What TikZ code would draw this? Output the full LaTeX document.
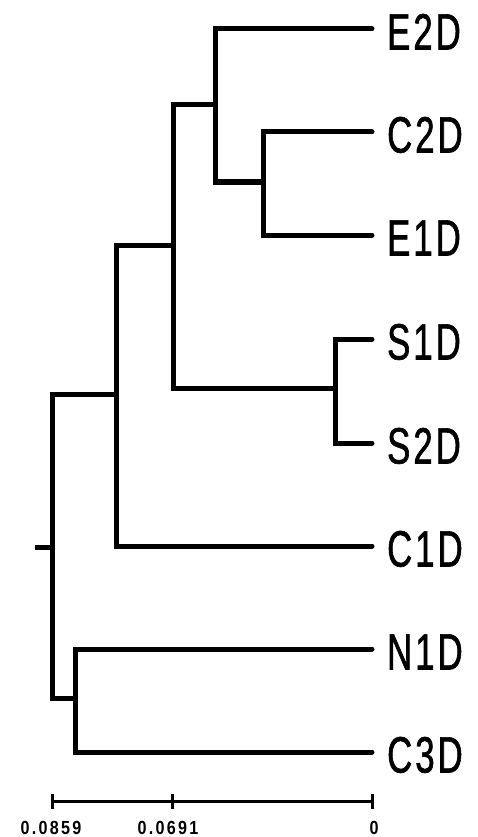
\documentclass[tikz,border=0pt]{standalone}
\usepackage{fontspec}
\newfontfamily\labfont[FakeStretch=0.68,LetterSpace=6,FakeBold=1.2]{Liberation Sans}
\newfontfamily\scalefont[FakeStretch=0.85,LetterSpace=12]{Liberation Sans Bold}
\begin{document}
\begin{tikzpicture}[x=1pt,y=-1pt,
  branch/.style={line width=5pt,line cap=round,line join=miter},
  bar/.style={line width=3pt},
  leaf/.style={anchor=west,inner sep=0pt,font=\labfont\fontsize{51}{51}\selectfont,text height=37pt,text depth=0pt},
  scl/.style={anchor=north,inner sep=0pt,font=\scalefont\fontsize{19}{19}\selectfont,text height=14pt,text depth=0pt}]
\useasboundingbox (0,0) rectangle (477,837);
% leaf ends
\coordinate (lE2D) at (372,29);
\coordinate (lC2D) at (372,132);
\coordinate (lE1D) at (372,235);
\coordinate (lS1D) at (372,339);
\coordinate (lS2D) at (372,443);
\coordinate (lC1D) at (372,546);
\coordinate (lN1D) at (372,649);
\coordinate (lC3D) at (372,752);
% internal nodes
\coordinate (nCE) at (263,182);
\coordinate (nA) at (215,105);
\coordinate (nS) at (335,388);
\coordinate (nB) at (173,245);
\coordinate (nC) at (116,394);
\coordinate (nNC) at (75,698);
\coordinate (root) at (52,547);
\coordinate (stub) at (35,547);
% labels
\node[leaf] (E2D) at (387,31) {E2D};
\node[leaf] (C2D) at (387,134) {C2D};
\node[leaf] (E1D) at (387,237) {E1D};
\node[leaf] (S1D) at (387,341) {S1D};
\node[leaf] (S2D) at (387,445) {S2D};
\node[leaf] (C1D) at (387,548) {C1D};
\node[leaf] (N1D) at (387,651) {N1D};
\node[leaf] (C3D) at (387,754) {C3D};
% tree
\draw[branch] (lC2D) -| (nCE) |- (lE1D);
\draw[branch] (lE2D) -| (nA) |- (nCE);
\draw[branch] (lS1D) -| (nS) |- (lS2D);
\draw[branch] (nA) -| (nB) |- (nS);
\draw[branch] (nB) -| (nC) |- (lC1D);
\draw[branch] (lN1D) -| (nNC) |- (lC3D);
\draw[branch] (nC) -| (root) |- (nNC);
\draw[branch,line cap=butt] (stub) -- (root);
% scale bar
\coordinate (s0) at (52,801);
\coordinate (s1) at (172,801);
\coordinate (s2) at (372,801);
\draw[bar] (s0) -- (s2);
\draw[bar] ([yshift=-8pt]s0) -- ([yshift=7pt]s0);
\draw[bar] ([yshift=-8pt]s1) -- ([yshift=7pt]s1);
\draw[bar] ([yshift=-8pt]s2) -- ([yshift=7pt]s2);
\node[scl] (t0) at (51,820) {0.0859};
\node[scl] (t1) at (168,820) {0.0691};
\node[scl] (t2) at (374,820) {0};
\end{tikzpicture}
\end{document}
